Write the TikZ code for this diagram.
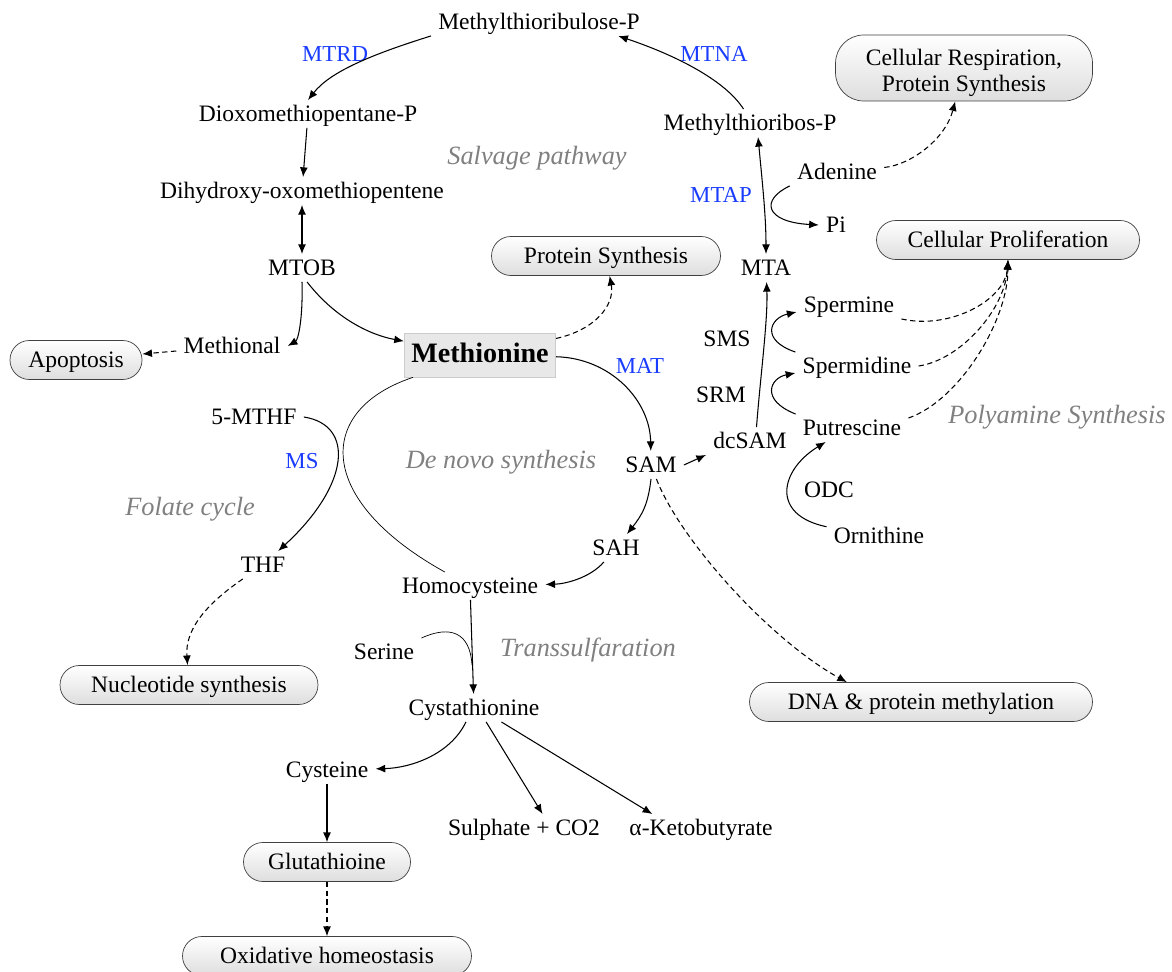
\documentclass[tikz,border=0pt]{standalone}
\usepackage{fontspec}
\setmainfont{Liberation Serif}
\usetikzlibrary{arrows.meta}
\definecolor{enzblue}{RGB}{25,60,255}

\begin{document}
\begin{tikzpicture}[x=0.02cm, y=-0.02cm,
  every node/.style={font=\fontsize{13.4}{15}\selectfont, inner xsep=4pt, inner ysep=2.5pt, text height=0.95em, text depth=0.1em},
  enzyme/.style={text=enzblue, font=\fontsize{13}{15}\selectfont},
  pathway/.style={text=black!50, font=\fontsize{15}{18}\selectfont\itshape},
  outcome/.style={draw=black!75, rounded corners=11pt, top color=white, bottom color=black!13, minimum height=0.78cm},
  met/.style={draw=black!20, fill=black!9, font=\fontsize{16}{19}\selectfont\bfseries, minimum width=3cm, minimum height=0.88cm},
  arr/.style={-{Latex[length=5.5pt,width=4.5pt]}, line width=0.6pt},
  dasharr/.style={arr, dash pattern=on 3pt off 2pt},
  dbl/.style={{Latex[length=5.5pt,width=4.5pt]}-{Latex[length=5.5pt,width=4.5pt]}, line width=0.6pt}]
\useasboundingbox (0,0) rectangle (1172,972);
\node (mtrp) at (539,22) {Methylthioribulose-P};
\node[enzyme] (mtrd) at (335,54) {MTRD};
\node (dioxo) at (308,114) {Dioxomethiopentane-P};
\node (dihyd) at (302,191) {Dihydroxy-oxomethiopentene};
\node (mtob) at (302,268) {MTOB};
\node (methional) at (232,346) {Methional};
\node[outcome, minimum width=2.64cm] (apoptosis) at (76,360) {Apoptosis};
\node[met] (methionine) at (480,355) {Methionine};
\node[outcome, minimum width=4.58cm] (protsyn) at (606,256) {Protein Synthesis};
\node[pathway] (salvage) at (537,157) {Salvage pathway};
\node (mtrib) at (750,123) {Methylthioribos-P};
\node[enzyme] (mtna) at (714,54) {MTNA};
\node[outcome, minimum width=5.14cm, minimum height=1.32cm, rounded corners=16pt] (cellresp) at (964,68) {\raisebox{-2.5pt}[0pt][0pt]{\begin{tabular}{@{}c@{}}Cellular Respiration,\\Protein Synthesis\end{tabular}}};
\node (adenine) at (837,172) {Adenine};
\node[enzyme] (mtap) at (721,195) {MTAP};
\node (pi) at (836,225) {Pi};
\node (mta) at (766,268) {MTA};
\node[outcome, minimum width=5.26cm] (cellprol) at (1008,240) {Cellular Proliferation};
\node (spermine) at (849,305) {Spermine};
\node (sms) at (727,339) {SMS};
\node (spermidine) at (857,366) {Spermidine};
\node (srm) at (721,395) {SRM};
\node (dcsam) at (750,441) {dcSAM};
\node (putrescine) at (852,428) {Putrescine};
\node[pathway] (polyam) at (1057,416) {Polyamine Synthesis};
\node (odc) at (829,490) {ODC};
\node (ornithine) at (879,536) {Ornithine};
\node[enzyme] (mat) at (640,366) {MAT};
\node (sam) at (651,465) {SAM};
\node (sah) at (616,548) {SAH};
\node[pathway] (denovo) at (501,461) {De novo synthesis};
\node (mthf) at (254,417) {5-MTHF};
\node[enzyme] (ms) at (302,461) {MS};
\node[pathway] (folate) at (190,508) {Folate cycle};
\node (thf) at (263,565) {THF};
\node (homocys) at (470,586) {Homocysteine};
\node (serine) at (384,652) {Serine};
\node[pathway] (transs) at (588,649) {Transsulfaration};
\node[outcome, minimum width=5.16cm] (nucleo) at (189,685) {Nucleotide synthesis};
\node (cystath) at (474,708) {Cystathionine};
\node[outcome, minimum width=6.86cm] (dna) at (921,702) {DNA \& protein methylation};
\node (cysteine) at (327,770) {Cysteine};
\node (sulphate) at (524,828) {Sulphate + CO2};
\node (keto) at (701,828) {α-Ketobutyrate};
\node[outcome, minimum width=3.34cm] (glut) at (327,862) {Glutathioine};
\node[outcome, minimum width=5.78cm] (oxid) at (327,956) {Oxidative homeostasis};
\coordinate (join) at (472,665);
\draw[arr] (mtrp.south west) .. controls (370,55) and (330,72) .. (dioxo.north);
\draw[arr] (dioxo) -- (dihyd);
\draw[dbl] (dihyd) -- (mtob);
\draw[arr] (mtob.south) .. controls (303,320) and (298,340) .. (methional.east);
\draw[arr] (mtob.290) .. controls (335,318) and (370,335) .. (methionine);
\draw[dasharr] (methional) -- (apoptosis);
\draw[dasharr] (methionine) .. controls (595,330) and (615,305) .. (protsyn);
\draw[arr] (methionine) .. controls (610,358) and (650,400) .. (sam);
\draw (methionine) .. controls (315,410) and (315,500) .. (homocys);
\draw[arr] (mthf.east) .. controls (355,425) and (350,485) .. (thf);
\draw[dasharr] (thf) .. controls (205,605) and (185,630) .. (nucleo);
\draw[arr] (sam.east) -- (dcsam.south west);
\draw[arr] (sam.south) .. controls (648,505) and (642,515) .. (sah);
\draw[arr] (sah) .. controls (590,578) and (565,584) .. (homocys);
\draw[dasharr] (sam) .. controls (680,540) and (770,640) .. (dna.165);
\draw[arr] (dcsam.65) .. controls (760,380) and (768,320) .. (mta);
\draw[dbl] (mta) .. controls (766,215) and (762,180) .. (mtrib.300);
\draw[arr] (adenine.south west) .. controls (760,200) and (765,222) .. (pi.west);
\draw[dasharr] (adenine) .. controls (910,165) and (945,140) .. (cellresp);
\draw[arr] (mtrib.115) .. controls (725,80) and (675,55) .. (mtrp.-10);
\draw[arr] (spermidine.north west) .. controls (760,340) and (770,318) .. ([yshift=-4pt]spermine.west);
\draw[arr] (putrescine.north west) .. controls (760,400) and (770,378) .. ([yshift=-4pt]spermidine.west);
\draw[arr] (ornithine.170) .. controls (770,515) and (780,470) .. (putrescine.208);
\draw[dasharr] (spermine.south east) .. controls (950,330) and (1005,300) .. (cellprol.south);
\draw[dasharr] (spermidine.east) .. controls (960,360) and (1005,310) .. (cellprol.south);
\draw[dasharr] (putrescine.10) .. controls (960,400) and (1008,320) .. (cellprol.south);
\draw[arr] (homocys) -- (cystath);
\draw (serine.north east) .. controls (450,625) and (470,632) .. (join);
\draw[arr] (cystath.240) .. controls (450,755) and (410,768) .. (cysteine);
\draw[arr] (cystath.311) -- (sulphate.37);
\draw[arr] (cystath.333) -- (keto.164);
\draw[arr] (cysteine) -- (glut);
\draw[dasharr] (glut) -- (oxid);
\end{tikzpicture}
\end{document}
